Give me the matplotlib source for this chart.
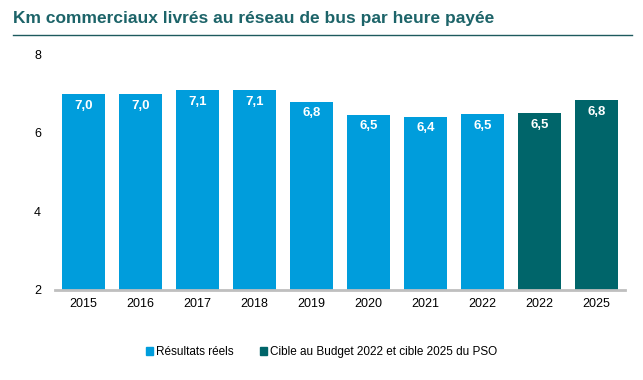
import matplotlib.pyplot as plt
from matplotlib.patches import Patch
from matplotlib.lines import Line2D

plt.rcParams['font.family'] = ['Liberation Sans', 'DejaVu Sans']

years = ['2015', '2016', '2017', '2018', '2019', '2020', '2021', '2022', '2022', '2025']
values = [6.98, 6.99, 7.08, 7.08, 6.79, 6.46, 6.41, 6.47, 6.51, 6.82]
labels = ['7,0', '7,0', '7,1', '7,1', '6,8', '6,5', '6,4', '6,5', '6,5', '6,8']
is_target = [False] * 8 + [True] * 2

blue = '#009DDC'
teal = '#00656A'

fig = plt.figure(figsize=(6.43, 3.8), dpi=100)
ax = fig.add_axes([55 / 643, 1 - 290 / 380, 570 / 643, 236 / 380])

colors = [teal if t else blue for t in is_target]
x = list(range(len(years)))
bars = ax.bar(x, [v - 2 for v in values], bottom=2, width=0.75, color=colors)

for b, lab in zip(bars, labels):
    ax.text(b.get_x() + b.get_width() / 2, b.get_y() + b.get_height() - 0.15, lab,
            ha='center', va='top', color='white', fontsize=9.5, fontweight='bold')

ax.set_ylim(2, 8)
ax.set_xlim(-0.5, len(years) - 0.5)
ax.set_yticks([2, 4, 6, 8])
ax.set_xticks(x)
ax.set_xticklabels(years)
ax.tick_params(axis='both', length=0, labelsize=9, colors='#000000')
ax.tick_params(axis='y', pad=10)
ax.tick_params(axis='x', pad=6)
for s in ['top', 'right', 'left']:
    ax.spines[s].set_visible(False)
ax.spines['bottom'].set_color('#BFBFBF')
ax.spines['bottom'].set_linewidth(2)

fig.text(13 / 643, 1 - 18 / 380, 'Km commerciaux livrés au réseau de bus par heure payée',
         ha='left', va='center', fontsize=12.5, fontweight='bold', color='#1D6469')
fig.add_artist(Line2D([13 / 643, 632 / 643], [1 - 35 / 380, 1 - 35 / 380],
                      color='#1D5A5E', linewidth=1, transform=fig.transFigure))

handles = [Patch(color=blue, label='Résultats réels'),
           Patch(color=teal, label='Cible au Budget 2022 et cible 2025 du PSO')]
fig.legend(handles=handles, loc='center', bbox_to_anchor=(0.5, 1 - 352 / 380),
           ncol=2, frameon=False, fontsize=8.5, handlelength=0.6, handleheight=0.6,
           handletextpad=0.2, columnspacing=2.3)

fig.savefig('out.png', dpi=100)
